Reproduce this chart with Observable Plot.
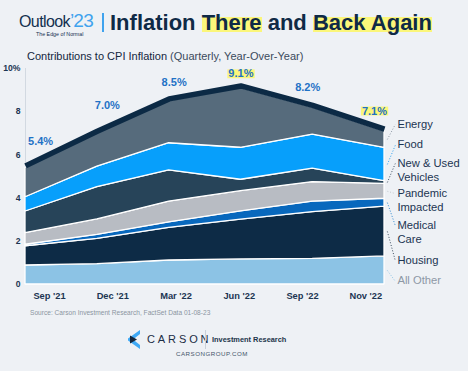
<!DOCTYPE html>
<html><head><meta charset="utf-8">
<script src="https://cdn.jsdelivr.net/npm/d3@7"></script>
<script src="https://cdn.jsdelivr.net/npm/@observablehq/plot@0.6"></script>
<style>
html,body{margin:0;padding:0;background:#eef1f5;}
#page{position:relative;width:468px;height:371px;overflow:hidden;background:#eef1f5;font-family:"Liberation Sans",Arial,Helvetica,sans-serif;color:#0f2a46;}
.abs{position:absolute;white-space:nowrap;}
#outlook{left:19px;top:10px;font-size:16px;letter-spacing:-0.6px;line-height:22px;color:#13304f;}
#outlook .yr{color:#3fa3ee;font-size:19px;letter-spacing:-0.8px;}
#edge{left:36px;top:31px;font-size:5.3px;line-height:6px;color:#13304f;}
#bar{left:102px;top:13px;width:2px;height:19px;background:#3fa3ee;}
#title{left:110px;top:9px;font-size:22px;font-weight:bold;line-height:28px;color:#0f2a46;}
.hl{background:linear-gradient(to bottom,transparent 30%,#fbf67a 30%,#fbf67a 88%,transparent 88%);}
#sub{left:27px;top:49px;font-size:11px;line-height:14px;color:#13263d;}
#sub .lt{color:#3b4a5c;}
#chart{position:absolute;left:0;top:50px;}
#chart svg text.ax{letter-spacing:-0.35px;}
#source{left:30px;top:309px;font-size:6.6px;line-height:8px;color:#8b95a1;}
#icon{left:128px;top:330px;}
#carson{left:147px;top:332px;font-size:11px;line-height:14px;letter-spacing:2.9px;color:#1b2d44;}
#sep{left:205px;top:330px;width:1px;height:19px;background:#c9d0d8;}
#ir{left:212px;top:335px;font-size:7.4px;font-weight:bold;line-height:10px;color:#22344a;}
#url{left:176px;top:350px;font-size:6.2px;line-height:8px;letter-spacing:0.5px;color:#44556a;}
</style></head><body>
<div id="page">
  <div class="abs" id="outlook">Outlook<span class="yr">’23</span></div>
  <div class="abs" id="edge">The Edge of Normal</div>
  <div class="abs" id="bar"></div>
  <div class="abs" id="title">Inflation <span class="hl">There</span> and <span class="hl">Back Again</span></div>
  <div id="chart"></div>
  <div class="abs" id="sub">Contributions to CPI Inflation <span class="lt">(Quarterly, Year-Over-Year)</span></div>
  <div class="abs" id="source">Source: Carson Investment Research, FactSet Data 01-08-23</div>
  <svg class="abs" id="icon" width="13" height="19" viewBox="0 0 13 19">
    <polygon points="12,0 0,8.5 0,10.5 12,19 12,15 5,9.5 12,4" fill="#3fa9f5"/>
    <polygon points="2,5.5 9,9.5 2,13.5" fill="#13263d"/>
  </svg>
  <div class="abs" id="carson">CARSON</div>
  <div class="abs" id="sep"></div>
  <div class="abs" id="ir">Investment Research</div>
  <div class="abs" id="url">CARSONGROUP.COM</div>
</div>
<script>
// ---- data ----
const quarters = ["Sep '21", "Dec '21", "Mar '22", "Jun '22", "Sep '22", "Nov '22"];
const totals   = [5.4, 7.0, 8.5, 9.1, 8.2, 7.1];
const allOther = [0.88, 0.94, 1.11, 1.16, 1.19, 1.30];
const housing  = [0.89, 1.17, 1.51, 1.84, 2.16, 2.31];
const medical  = [0.07, 0.19, 0.26, 0.39, 0.49, 0.36];
const pandemic = [0.54, 0.71, 0.96, 0.93, 0.90, 0.69];
const vehicles = [1.00, 1.50, 1.44, 0.53, 0.62, 0.13];
const food     = [0.66, 0.95, 1.26, 1.48, 1.58, 1.54];
const energy   = [1.36, 1.54, 1.96, 2.77, 1.26, 0.77];
const seriesNames = ["All Other", "Housing", "Medical Care", "Pandemic Impacted", "New & Used Vehicles", "Food", "Energy"];
const legendLabels = ["All Other", "Housing", "Medical\nCare", "Pandemic\nImpacted", "New & Used\nVehicles", "Food", "Energy"];
const highlighted = ["Jun '22", "Nov '22"];
const yTicks = [0, 2, 4, 6, 8, 10];

// ---- styles / layout ----
const colors = ["#8cc3e5", "#0d2b46", "#0868bd", "#b8bcc3", "#274459", "#079ffb", "#566b7c"];
const leaderColors = ["#8cc3e5", "#3a4b5e", "#2a86d0", "#c4c8ce", "#3a4b5e", "#2a9ff0", "#8e99a5"];
const textColors = ["#8d98a5", "#1c3552", "#1c3552", "#1c3552", "#1c3552", "#1c3552", "#1c3552"];
const legendAt = [0.15, 1.11, 2.73, 4.21, 5.6, 6.44, 7.41];   // legend label anchor (value units)
const labelNudge = [-26, -28, -18, -14, -20, -20];            // px offset of % labels

const seriesValues = [allOther, housing, medical, pandemic, vehicles, food, energy];
const rows = [];
seriesNames.forEach((s, k) => quarters.forEach((q, i) => rows.push({i, q, series: s, value: seriesValues[k][i]})));
const totalRows = quarters.map((q, i) => ({i, q, total: totals[i]}));

const last = quarters.length - 1;
let cum = 0;
const legendRows = seriesNames.map((s, k) => {
  const v = seriesValues[k][last];
  const mid = cum + v / 2; cum += v;
  return {series: s, label: legendLabels[k], mid, at: legendAt[k], k};
});

const chart = Plot.plot({
  width: 468, height: 256,
  marginLeft: 25, marginRight: 84, marginTop: 18, marginBottom: 22,
  style: {background: "transparent", overflow: "visible", fontFamily: "'Liberation Sans',Arial,sans-serif"},
  x: {type: "linear", domain: [0, last], axis: null},
  y: {domain: [0, 10], axis: null},
  color: {domain: seriesNames, range: colors},
  marks: [
    Plot.ruleX([0], {y1: 0, y2: 10, stroke: "#d2d9e1", strokeWidth: 1}),
    Plot.areaY(rows, {x: "i", y: "value", z: "series", fill: "series", order: seriesNames, stroke: "white", strokeWidth: 1.3, strokeLinejoin: "miter"}),
    Plot.lineY(totalRows, {x: "i", y: "total", stroke: "#0c2a45", strokeWidth: 5.5, dy: -2, strokeLinecap: "butt", strokeLinejoin: "miter"}),
    Plot.axisY(yTicks, {tickSize: 0, tickPadding: 0, dx: -5, tickFormat: d => d === 10 ? "10%" : String(d), fontWeight: "bold", fill: "#1c3552", fontSize: 8.6, className: "ax"}),
    Plot.text(quarters, {x: (d, i) => 0.334 + i * 0.881, y: () => 0, dy: 12, text: d => d, fontWeight: "bold", fill: "#1c3552", fontSize: 9.3, className: "ax"}),
    Plot.text(totalRows, {x: d => 0.21 + d.i * 0.93, y: "total", text: d => d.total.toFixed(1) + "%", fontWeight: "bold", fill: "#1f72c6", fontSize: 11, className: "pct"}),
    Plot.link(legendRows, {x1: last + 0.04, y1: "mid", x2: last + 0.15, y2: "at", stroke: d => leaderColors[d.k], strokeDasharray: "1,1.8", strokeWidth: 1}),
    Plot.text(legendRows, {x: last + 0.18, y: "at", text: "label", textAnchor: "start", lineAnchor: "top", dy: -7, lineHeight: 1.27, fontSize: 11.2, fill: d => textColors[d.k]})
  ]
});
document.getElementById("chart").appendChild(chart);

// per-label nudge + highlight boxes for the % labels
const pctTexts = chart.querySelectorAll(".pct text");
pctTexts.forEach((t, i) => {
  const tr = t.getAttribute("transform") || "";
  const m = tr.match(/translate\(([-\d.]+),\s*([-\d.]+)\)/);
  if (m) t.setAttribute("transform", `translate(${m[1]},${+m[2] + labelNudge[i]})`);
  if (highlighted.includes(quarters[i])) {
    const b = t.getBBox();
    const r = document.createElementNS("http://www.w3.org/2000/svg", "rect");
    r.setAttribute("x", b.x - 1);
    r.setAttribute("y", b.y + b.height * 0.16);
    r.setAttribute("width", b.width + 2);
    r.setAttribute("height", b.height * 0.74);
    r.setAttribute("fill", "#fbf67a");
    if (t.getAttribute("transform")) r.setAttribute("transform", t.getAttribute("transform"));
    t.parentNode.insertBefore(r, t);
  }
});
</script>
</body></html>
